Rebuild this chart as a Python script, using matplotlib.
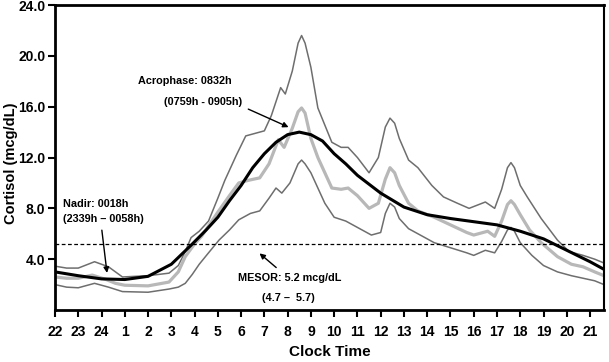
import matplotlib
matplotlib.use("Agg")
import matplotlib.pyplot as plt

plt.rcParams["font.family"] = ["Liberation Sans", "DejaVu Sans"]
plt.rcParams["font.weight"] = "bold"

# x = hours after 22:00
FIT_T = [0, 1, 2, 3, 4, 5, 5.85, 6.5, 7, 7.5, 8, 8.5, 9, 9.5, 10, 10.5, 11, 11.5,
         12, 12.5, 13, 14, 15, 16, 17, 18, 19, 20, 21, 22, 23, 23.6]
FIT_V = [3.0, 2.7, 2.45, 2.4, 2.65, 3.6, 5.1, 6.3, 7.3, 8.6, 9.8, 11.2, 12.3, 13.2,
         13.8, 14.0, 13.8, 13.3, 12.3, 11.5, 10.6, 9.2, 8.1, 7.5, 7.2, 6.95, 6.7,
         6.2, 5.6, 4.7, 3.8, 3.2]

MEAN_T = [0, 0.5, 1.0, 1.6, 2.2, 2.6, 3.0, 4.0, 4.9, 5.3, 5.6, 6.0, 6.3, 7.0, 7.5,
          7.9, 8.3, 8.8, 9.2, 9.6, 9.85, 10.2, 10.45, 10.6, 10.75, 11.0, 11.3, 11.9,
          12.3, 12.6, 13.0, 13.5, 13.9, 14.2, 14.4, 14.6, 14.8, 15.2, 15.6, 16.3,
          17.0, 17.7, 18.0, 18.6, 18.9, 19.2, 19.45, 19.6, 19.75, 20.0, 20.4, 20.9,
          21.6, 22.2, 22.7, 23.2, 23.6]
MEAN_V = [2.6, 2.5, 2.5, 2.75, 2.4, 2.1, 1.95, 1.9, 2.2, 3.0, 4.2, 5.2, 5.8, 7.7,
          9.0, 10.0, 10.2, 10.4, 11.5, 13.4, 12.8, 14.3, 15.6, 15.9, 15.5, 13.5,
          12.0, 9.6, 9.5, 9.6, 9.0, 8.0, 8.4, 10.3, 11.2, 10.8, 9.8, 8.4, 7.8, 7.3,
          6.7, 6.1, 5.9, 6.2, 5.8, 7.0, 8.3, 8.6, 8.3, 7.5, 6.3, 5.3, 4.2, 3.6,
          3.4, 3.0, 2.7]

UPPER_T = [0, 0.5, 1.0, 1.7, 2.3, 2.9, 4.0, 4.9, 5.3, 5.6, 5.85, 6.2, 6.6, 7.0, 7.3,
           7.8, 8.2, 8.6, 9.0, 9.3, 9.7, 9.9, 10.2, 10.45, 10.6, 10.75, 11.0, 11.3,
           11.9, 12.3, 12.6, 13.0, 13.5, 13.9, 14.2, 14.4, 14.6, 14.8, 15.2, 15.6,
           16.2, 16.7, 17.3, 17.8, 18.5, 18.9, 19.2, 19.45, 19.6, 19.75, 20.0, 20.3,
           20.9, 21.6, 22.1, 22.7, 23.2, 23.6]
UPPER_V = [3.45, 3.3, 3.3, 3.8, 3.4, 2.6, 2.7, 2.9, 3.5, 4.6, 5.7, 6.2, 7.0, 8.8,
           10.2, 12.2, 13.7, 13.9, 14.1, 15.3, 17.5, 17.0, 18.8, 21.0, 21.6, 21.0,
           19.1, 15.9, 13.2, 12.8, 12.8, 12.0, 10.8, 12.0, 14.4, 15.1, 14.7, 13.5,
           11.8, 11.2, 9.8, 8.9, 8.4, 8.0, 8.5, 8.0, 9.5, 11.2, 11.6, 11.2, 9.8,
           8.9, 7.2, 5.5, 4.6, 4.3, 4.0, 3.7]

LOWER_T = [0, 0.5, 1.0, 1.7, 2.3, 2.9, 4.0, 4.9, 5.3, 5.6, 5.9, 6.2, 6.6, 7.05, 7.5,
           7.9, 8.4, 8.8, 9.2, 9.5, 9.75, 10.1, 10.45, 10.6, 10.75, 11.0, 11.6, 12.0,
           12.5, 13.0, 13.6, 14.0, 14.2, 14.4, 14.6, 14.8, 15.2, 15.6, 16.3, 17.0,
           17.7, 18.0, 18.5, 18.9, 19.2, 19.45, 19.6, 19.75, 20.0, 20.5, 21.0, 21.6,
           22.2, 22.7, 23.2, 23.6]
LOWER_V = [2.0, 1.8, 1.75, 2.1, 1.8, 1.45, 1.4, 1.65, 1.8, 2.1, 2.8, 3.6, 4.5, 5.5,
           6.3, 7.1, 7.6, 7.8, 8.8, 9.6, 9.2, 10.0, 11.5, 11.8, 11.5, 10.8, 8.4,
           7.3, 7.0, 6.5, 5.9, 6.1, 7.6, 8.4, 8.1, 7.2, 6.4, 6.0, 5.3, 4.9, 4.5,
           4.3, 4.7, 4.5, 5.4, 6.3, 6.5, 6.2, 5.3, 4.3, 3.5, 3.0, 2.7, 2.5, 2.3, 2.0]

MESOR = 5.2
HOUR_LABELS = ["22", "23", "24"] + [str(h) for h in range(1, 22)]
Y_TICKS = [4.0, 8.0, 12.0, 16.0, 20.0, 24.0]

fig = plt.figure(figsize=(6.09, 3.62), dpi=100)
ax = fig.add_axes([0.0903, 0.1436, 0.9015, 0.8425])

line_kw = dict(solid_joinstyle="round", solid_capstyle="round")
ax.plot(UPPER_T, UPPER_V, color="#6e6e6e", lw=1.1, **line_kw)
ax.plot(LOWER_T, LOWER_V, color="#6e6e6e", lw=1.1, **line_kw)
ax.plot(MEAN_T, MEAN_V, color="#b8b8b8", lw=2.3, **line_kw)
ax.plot(FIT_T, FIT_V, color="black", lw=2.2, **line_kw)
ax.axhline(MESOR, color="black", lw=0.9, ls=(0, (3, 2)))

ax.set_xlim(0, 23.6)
ax.set_ylim(0, 24)
ax.set_xticks(range(len(HOUR_LABELS)))
ax.set_xticklabels(HOUR_LABELS)
ax.set_yticks(Y_TICKS)
ax.set_yticklabels([f"{v:.1f}" for v in Y_TICKS])
ax.tick_params(labelsize=10, width=1.5, length=5)
ax.tick_params(axis="x", pad=6)
ax.tick_params(axis="y", pad=2)
for side in ["top", "left", "bottom"]:
    ax.spines[side].set_linewidth(2)
ax.spines["right"].set_linewidth(1.5)

ax.set_xlabel("Clock Time", fontsize=11, fontweight="bold", labelpad=4)
ax.set_ylabel("Cortisol (mcg/dL)", fontsize=10.5, fontweight="bold")
ax.yaxis.set_label_coords(-0.068, 0.48)

arrow = dict(arrowstyle="-|>", color="black", lw=1.0, mutation_scale=8)
kw = dict(fontsize=7.8, fontweight="bold")
ax.text(3.55, 17.8, "Acrophase: 0832h", **kw)
ax.text(4.7, 16.1, "(0759h - 0905h)", **kw)
ax.annotate("", xy=(10.15, 14.3), xytext=(8.2, 15.9), arrowprops=arrow)

ax.text(0.35, 8.1, "Nadir: 0018h", **kw)
ax.text(0.35, 6.9, "(2339h \u2013 0058h)", **kw)
ax.annotate("", xy=(2.25, 2.7), xytext=(2.0, 6.5), arrowprops=arrow)

ax.text(7.85, 2.3, "MESOR: 5.2 mcg/dL", **kw)
ax.text(8.9, 0.7, "(4.7 \u2013  5.7)", **kw)
ax.annotate("", xy=(8.7, 4.6), xytext=(9.6, 3.2), arrowprops=arrow)

fig.savefig("out.png", dpi=100)
